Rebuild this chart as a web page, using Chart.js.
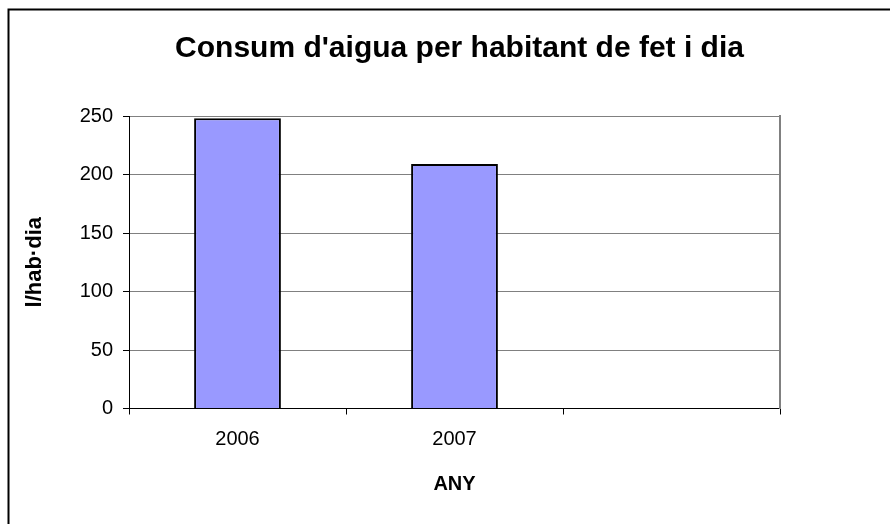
<!DOCTYPE html>
<html>
<head>
<meta charset="utf-8">
<script src="https://cdn.jsdelivr.net/npm/chart.js@4"></script>
<style>
  html, body { margin: 0; padding: 0; background: #fff; }
  canvas { display: block; }
</style>
</head>
<body>
<canvas id="chart" width="890" height="524"></canvas>
<script>
'use strict';

let years = ['2006', '2007', ''];
let consum = [248, 209, null];
let yTicks = [0, 50, 100, 150, 200, 250];

let font = "'Liberation Sans', Arial, sans-serif";

// outer frame of the chart object (only top and left edges show in the picture)
let framePlugin = {
  id: 'frame',
  beforeDraw(chart) {
    let ctx = chart.ctx;
    ctx.save();
    ctx.fillStyle = '#fff';
    ctx.fillRect(0, 0, chart.width, chart.height);
    ctx.strokeStyle = '#000';
    ctx.lineWidth = 2;
    ctx.strokeRect(8.5, 9.5, 1000, 1000);
    ctx.restore();
  }
};

function renderChart() {
  let canvasElem = document.getElementById('chart');

  let data = {
    labels: years,
    datasets: [
      {
        label: 'Consum',
        data: consum,
        backgroundColor: '#9999FF',
        borderColor: '#000',
        borderWidth: 2,
        barPercentage: 0.4,
        categoryPercentage: 1,
      },
    ],
  };

  let config = {
    type: 'bar',
    data: data,
    plugins: [framePlugin],
    options: {
      responsive: false,
      animation: false,
      // the original chart object is wider than the picture, so the title sits right of centre
      layout: { padding: { left: 17, right: -12, top: 0, bottom: 0 } },
      plugins: {
        legend: { display: false },
        tooltip: { enabled: false },
        title: {
          display: true,
          text: "Consum d'aigua per habitant de fet i dia",
          color: '#000',
          font: { family: font, size: 30, weight: 'bold' },
          padding: { top: 31, bottom: 49 },
        },
      },
      scales: {
        x: {
          grid: {
            drawOnChartArea: false,
            drawTicks: true,
            tickLength: 6,
            tickColor: '#000',
          },
          border: { color: '#000', width: 1 },
          ticks: {
            color: '#000',
            padding: 13,
            maxRotation: 0,
            font: { family: font, size: 20 },
          },
          title: {
            display: true,
            text: 'ANY',
            color: '#000',
            font: { family: font, size: 20, weight: 'bold' },
            padding: { top: 0, bottom: 28 },
          },
          afterFit(scale) { scale.height = 115.5; },
        },
        y: {
          min: 0,
          max: 250,
          afterBuildTicks(scale) { scale.ticks = yTicks.map(v => ({ value: v })); },
          grid: {
            color: '#808080',
            tickColor: '#000',
            tickLength: 6,
          },
          border: { color: '#000', width: 1 },
          ticks: {
            color: '#000',
            padding: 10,
            font: { family: font, size: 20 },
          },
          title: {
            display: true,
            text: 'l/hab·dia',
            color: '#000',
            font: { family: font, size: 22, weight: 'bold' },
            padding: { top: 5, bottom: 0 },
          },
          afterFit(scale) { scale.width = 112; },
        },
        // right edge of the plot area
        y2: {
          position: 'right',
          min: 0,
          max: 250,
          grid: { drawOnChartArea: false, drawTicks: false },
          border: { color: '#808080', width: 2 },
          ticks: { display: false },
          afterFit(scale) { scale.width = 122; },
        },
      },
    },
  };

  new Chart(canvasElem, config);
}

renderChart();
</script>
</body>
</html>
